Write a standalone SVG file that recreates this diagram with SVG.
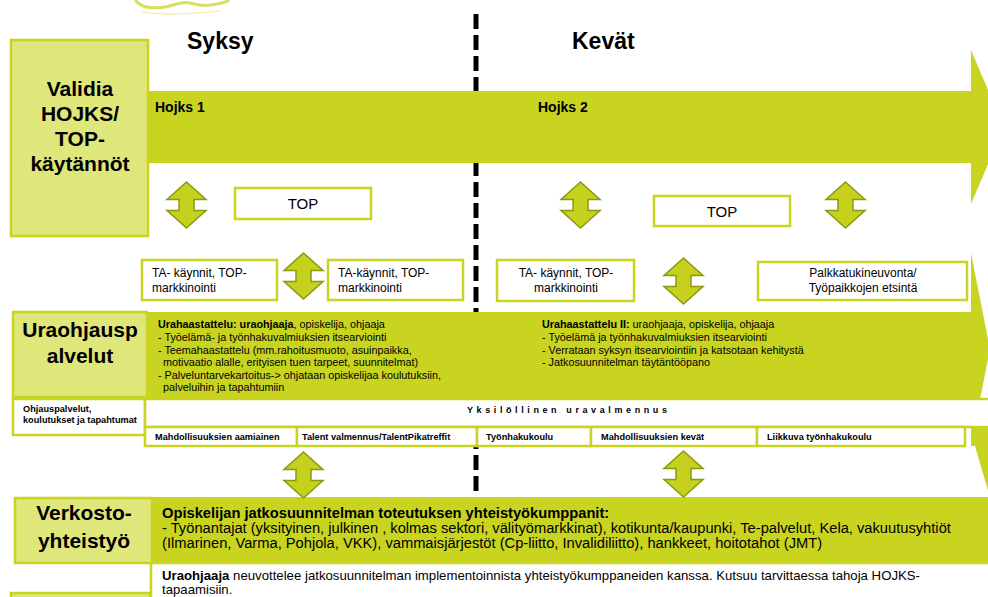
<svg xmlns="http://www.w3.org/2000/svg" width="988" height="597" viewBox="0 0 988 597">
<style>
.t{font-family:"Liberation Sans",Arial,sans-serif;fill:#000}
.b{font-weight:bold}
.box{fill:#fff;stroke:#C8D420;stroke-width:2.5}
.lbox{fill:#DFE67A;stroke:#C8D420;stroke-width:2.5}
.band{fill:#C8D420}
.dbl{fill:#C5D11E;stroke:#8C980F;stroke-width:1.5}
.h1{font-size:21px;font-weight:bold;text-anchor:middle}
.s12{font-size:12px}
.s10{font-size:10.8px}
.s9{font-size:9.2px;font-weight:bold}
.s15{font-size:14.7px}
</style>
<defs>
<path id="dbl" d="M19.5,0 L39,17.5 H27 V28.5 H39 L19.5,46 L0,28.5 H12 V17.5 H0 Z"/>
</defs>

<g id="logo" fill="none" stroke="#D6E05C" stroke-linecap="round">
<path d="M136,1 C142,8 152,9 165,7 C176,5 182,1 190,3 C200,6 210,7 228,1" stroke-width="3"/>
<path d="M142,12 C160,15 190,14 220,11" stroke-width="1.5" stroke="#EEF2B8"/>
</g>

<g id="divider">
<line x1="476" y1="14" x2="476" y2="497" stroke="#000" stroke-width="5" stroke-dasharray="15 6"/>
</g>

<g id="band-hojks">
<path class="band" d="M145,91 H971 V50 L1004,127 L971,204 V163 H145 Z"/>
<text class="t b" x="155" y="112" font-size="14">Hojks 1</text>
<text class="t b" x="538" y="112" font-size="14">Hojks 2</text>
</g>

<g id="band-ura">
<path class="band" d="M145,312 H971 V253 L990,349 L971,445 V398 H145 Z"/>
<text class="t s10" x="158" y="328"><tspan class="b">Urahaastattelu: uraohjaaja</tspan>, opiskelija, ohjaaja</text>
<text class="t s10" x="158" y="341">- Työelämä- ja työnhakuvalmiuksien  itsearviointi</text>
<text class="t s10" x="158" y="354">- Teemahaastattelu (mm.rahoitusmuoto, asuinpaikka,</text>
<text class="t s10" x="163" y="366">motivaatio alalle, erityisen tuen tarpeet, suunnitelmat)</text>
<text class="t s10" x="158" y="379">- Palveluntarvekartoitus-&gt; ohjataan opiskelijaa koulutuksiin,</text>
<text class="t s10" x="163" y="391">palveluihin ja tapahtumiin</text>
<text class="t s10" x="542" y="328"><tspan class="b">Urahaastattelu II:</tspan> uraohjaaja, opiskelija, ohjaaja</text>
<text class="t s10" x="542" y="341">- Työelämä ja työnhakuvalmiuksien itsearviointi</text>
<text class="t s10" x="542" y="354">- Verrataan syksyn itsearviointiin ja katsotaan kehitystä</text>
<text class="t s10" x="542" y="366">- Jatkosuunnitelman täytäntööpano</text>
</g>

<g id="band-verkosto">
<path class="band" d="M150,497 H971 V438 L1000,530 L971,622 V563 H150 Z"/>
<rect class="band" x="971" y="427" width="19" height="70"/>
<path fill="#fff" d="M969,446 H975 L989,494 V497 H969 Z"/>
<text class="t b s15" x="162" y="518">Opiskelijan jatkosuunnitelman toteutuksen yhteistyökumppanit:</text>
<text class="t s15" x="162" y="533">- Työnantajat (yksityinen, julkinen , kolmas sektori, välityömarkkinat), kotikunta/kaupunki, Te-palvelut, Kela, vakuutusyhtiöt</text>
<text class="t s15" x="162" y="548">(Ilmarinen, Varma, Pohjola, VKK), vammaisjärjestöt (Cp-liitto, Invalidiliitto), hankkeet, hoitotahot (JMT)</text>
</g>

<g id="uraohjaaja-note">
<rect class="box" x="151" y="563" width="845" height="40" stroke-width="2"/>
<text class="t" x="162" y="580" font-size="13.2"><tspan class="b">Uraohjaaja</tspan> neuvottelee jatkosuunnitelman implementoinnista yhteistyökumppaneiden kanssa. Kutsuu tarvittaessa tahoja HOJKS-</text>
<text class="t" x="162" y="593.5" font-size="13.2">tapaamisiin.</text>
</g>
<g id="next-box">
<rect class="lbox" x="11" y="593" width="139" height="20"/>
</g>

<g id="syksy"><text class="t b" x="187" y="48.5" font-size="23">Syksy</text></g>
<g id="kevat"><text class="t b" x="572" y="49" font-size="23">Kevät</text></g>

<g id="validia">
<rect class="lbox" x="11" y="40" width="137" height="196"/>
<text class="t h1" x="80" y="96">Validia</text>
<text class="t h1" x="80" y="121">HOJKS/</text>
<text class="t h1" x="80" y="146">TOP-</text>
<text class="t h1" x="80" y="171">käytännöt</text>
</g>

<g id="top1">
<rect class="box" x="235" y="188" width="136" height="31"/>
<text class="t" x="303" y="209" font-size="15" text-anchor="middle">TOP</text>
</g>
<g id="top2">
<rect class="box" x="654" y="196" width="136" height="30"/>
<text class="t" x="722" y="217" font-size="15" text-anchor="middle">TOP</text>
</g>

<g id="ta1">
<rect class="box" x="142" y="260" width="135" height="40"/>
<text class="t s12" x="152" y="277">TA- käynnit, TOP-</text>
<text class="t s12" x="152" y="292">markkinointi</text>
</g>
<g id="ta2">
<rect class="box" x="328" y="260" width="135" height="40"/>
<text class="t s12" x="338" y="277">TA-käynnit, TOP-</text>
<text class="t s12" x="338" y="292">markkinointi</text>
</g>
<g id="ta3">
<rect class="box" x="497" y="260" width="137" height="41"/>
<text class="t s12" x="566" y="277" text-anchor="middle">TA- käynnit, TOP-</text>
<text class="t s12" x="566" y="292" text-anchor="middle">markkinointi</text>
</g>
<g id="palkkatuki">
<rect class="box" x="758" y="262" width="209" height="38"/>
<text class="t s12" x="863" y="277" text-anchor="middle">Palkkatukineuvonta/</text>
<text class="t s12" x="863" y="292" text-anchor="middle">Työpaikkojen etsintä</text>
</g>

<g id="uraohjauspalvelut">
<rect class="lbox" x="13" y="312" width="134" height="85"/>
<text class="t h1" x="80" y="337">Uraohjausp</text>
<text class="t h1" x="80" y="363">alvelut</text>
</g>

<g id="ohjauspalvelut">
<rect class="box" x="13" y="399" width="132" height="36"/>
<text class="t s9" x="23" y="412">Ohjauspalvelut,</text>
<text class="t s9" x="23" y="423">koulutukset  ja tapahtumat</text>
</g>

<g id="yksilollinen">
<rect class="box" x="145" y="399" width="850" height="28"/>
<text class="t b" x="467" y="413" font-size="9" letter-spacing="3.6">Yksilöllinen uravalmennus</text>
</g>

<g id="aamiainen">
<rect class="box" x="145" y="427" width="152" height="19"/>
<text class="t s9" x="155" y="440">Mahdollisuuksien aamiainen</text>
</g>
<g id="talent">
<rect class="box" x="297" y="427" width="180" height="19"/>
<text class="t s9" x="302" y="440">Talent valmennus/TalentPikatreffit</text>
</g>
<g id="tyonhakukoulu">
<rect class="box" x="477" y="427" width="114" height="19"/>
<text class="t s9" x="486" y="440">Työnhakukoulu</text>
</g>
<g id="kevat-box">
<rect class="box" x="591" y="427" width="166" height="19"/>
<text class="t s9" x="601" y="440">Mahdollisuuksien kevät</text>
</g>
<g id="liikkuva">
<rect class="box" x="757" y="427" width="208" height="19"/>
<text class="t s9" x="767" y="440">Liikkuva työnhakukoulu</text>
</g>

<g id="verkostoyhteistyo">
<rect class="lbox" x="15" y="498" width="137" height="65"/>
<text class="t h1" x="84" y="520">Verkosto-</text>
<text class="t h1" x="84" y="548">yhteistyö</text>
</g>

<g id="connectors">
<use href="#dbl" class="dbl" x="167" y="182"/>
<use href="#dbl" class="dbl" x="284" y="253"/>
<use href="#dbl" class="dbl" x="561" y="182"/>
<use href="#dbl" class="dbl" x="826" y="182"/>
<use href="#dbl" class="dbl" x="664" y="258"/>
<use href="#dbl" class="dbl" x="284" y="452"/>
<use href="#dbl" class="dbl" x="664" y="451"/>
</g>
</svg>
